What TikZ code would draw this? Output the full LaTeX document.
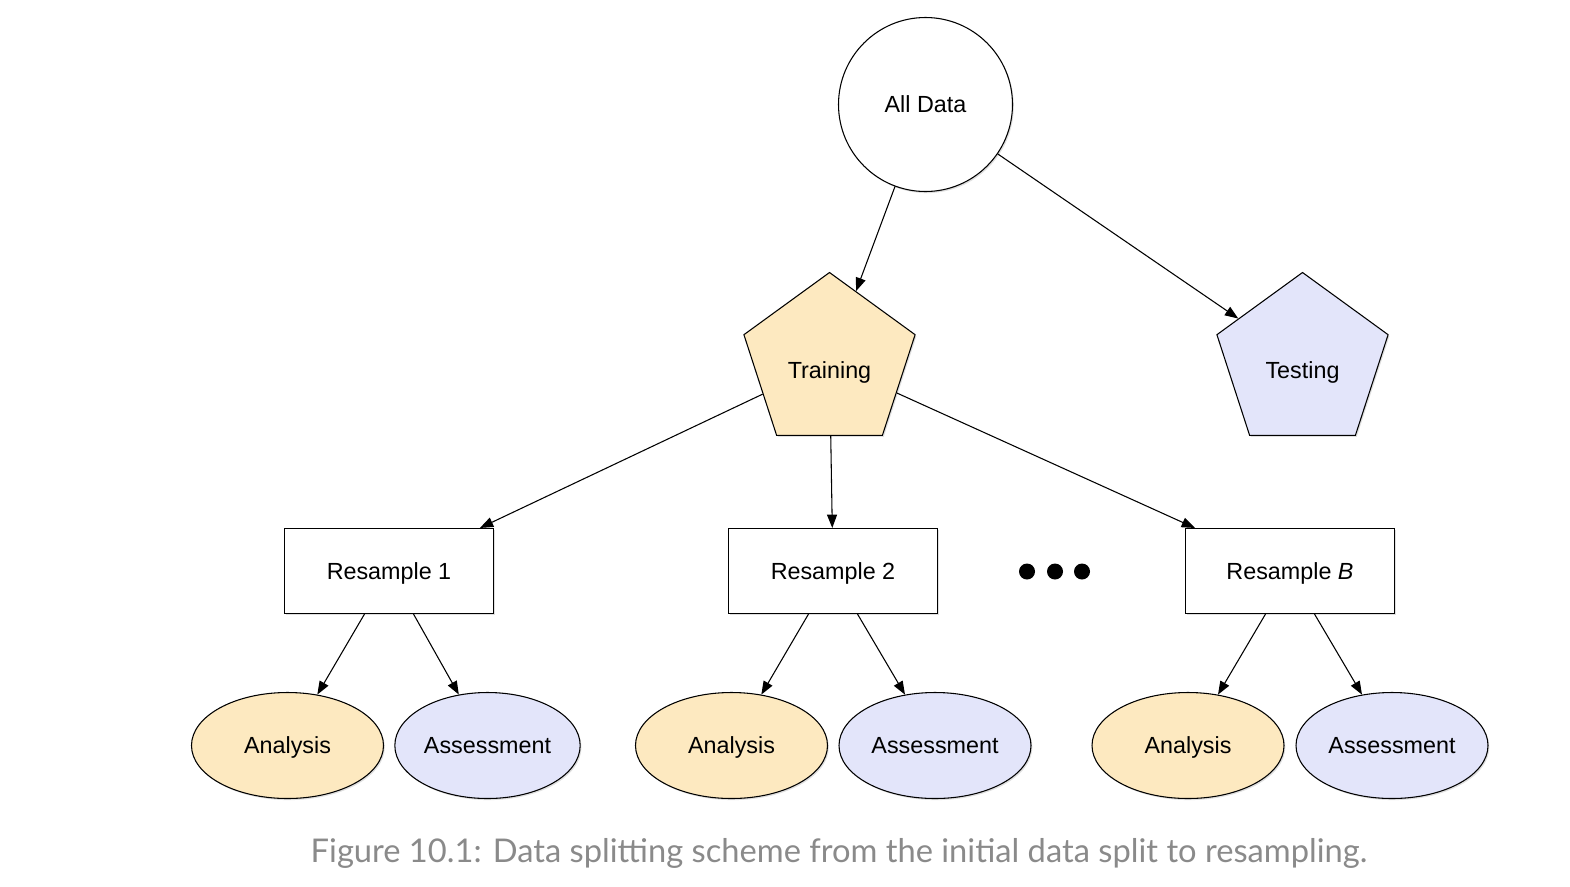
\documentclass[tikz,border=0pt]{standalone}
\usepackage{fontspec}
\setmainfont{Liberation Sans}
\newfontfamily\capfont{Lato}
\usetikzlibrary{arrows.meta,shapes.geometric,shadows,calc}
\definecolor{trainfill}{HTML}{FDE9C0}
\definecolor{testfill}{HTML}{E3E5FA}
\definecolor{capgray}{HTML}{8A8A8A}
\begin{document}
\begin{tikzpicture}[x=0.75pt,y=-0.75pt,
  font=\fontsize{17.5}{21}\selectfont,
  txt/.style={text height=12.5pt,text depth=0pt},
  every label/.style={txt},
  base/.style={txt,draw=black,line width=0.8pt,inner sep=0pt,
    drop shadow={shadow xshift=1pt,shadow yshift=-1.2pt,opacity=0.25}},
  datacircle/.style={base,circle,fill=white,minimum size=130.5pt},
  pent/.style={base,regular polygon,regular polygon sides=5,minimum size=135pt},
  rsbox/.style={base,rectangle,fill=white,minimum width=156.75pt,minimum height=63.75pt},
  anal/.style={base,ellipse,fill=trainfill,minimum width=144pt,minimum height=79.5pt},
  asses/.style={base,ellipse,fill=testfill,minimum width=144pt,minimum height=79.5pt},
  conn/.style={-{Triangle[length=10pt,width=7.5pt]},line width=0.8pt},
  dot/.style={circle,fill=black,inner sep=0pt,minimum size=12pt}]
\useasboundingbox (0,0) rectangle (1570,886);

\node[datacircle] (all) at (925.5,104.5) {All Data};
\node[pent,fill=trainfill,label={[yshift=-6pt]center:Training}] (train) at (829.5,362.5) {};
\node[pent,fill=testfill,label={[yshift=-6pt]center:Testing}] (test) at (1302.5,362.5) {};

\node[rsbox] (r1) at (389,571) {Resample 1};
\node[rsbox] (r2) at (833,571) {Resample 2};
\node[rsbox] (rb) at (1290,571) {Resample \textit{B}};

\node[dot] (d1) at (1027,571.5) {};
\node[dot] (d2) at (1055,571.5) {};
\node[dot] (d3) at (1082,571.5) {};

\node[anal] (a1) at (287.5,745.5) {Analysis};
\node[asses,minimum width=139pt] (s1) at (487.5,745.5) {Assessment};
\node[anal] (a2) at (731.5,745.5) {Analysis};
\node[asses] (s2) at (935,745.5) {Assessment};
\node[anal] (ab) at (1188,745.5) {Analysis};
\node[asses] (sb) at (1392,745.5) {Assessment};

\draw[conn] (all) -- (train);
\draw[conn] (all) -- (test);
\draw[conn] (train) -- (r1);
\draw[conn] (train) -- (r2);
\draw[conn] (train) -- (rb);

\draw[conn] ($(r1.south)+(-24.5,0)$) -- (a1);
\draw[conn] ($(r1.south)+(24.5,0)$) -- (s1);
\draw[conn] ($(r2.south)+(-24.5,0)$) -- (a2);
\draw[conn] ($(r2.south)+(24.5,0)$) -- (s2);
\draw[conn] ($(rb.south)+(-24.5,0)$) -- (ab);
\draw[conn] ($(rb.south)+(24.5,0)$) -- (sb);

\node[font=\capfont\fontsize{24.5}{28}\selectfont,text=capgray] (cap) at (839,853)
  {Figure 10.1: Data splitting scheme from the initial data split to resampling.};
\end{tikzpicture}
\end{document}
